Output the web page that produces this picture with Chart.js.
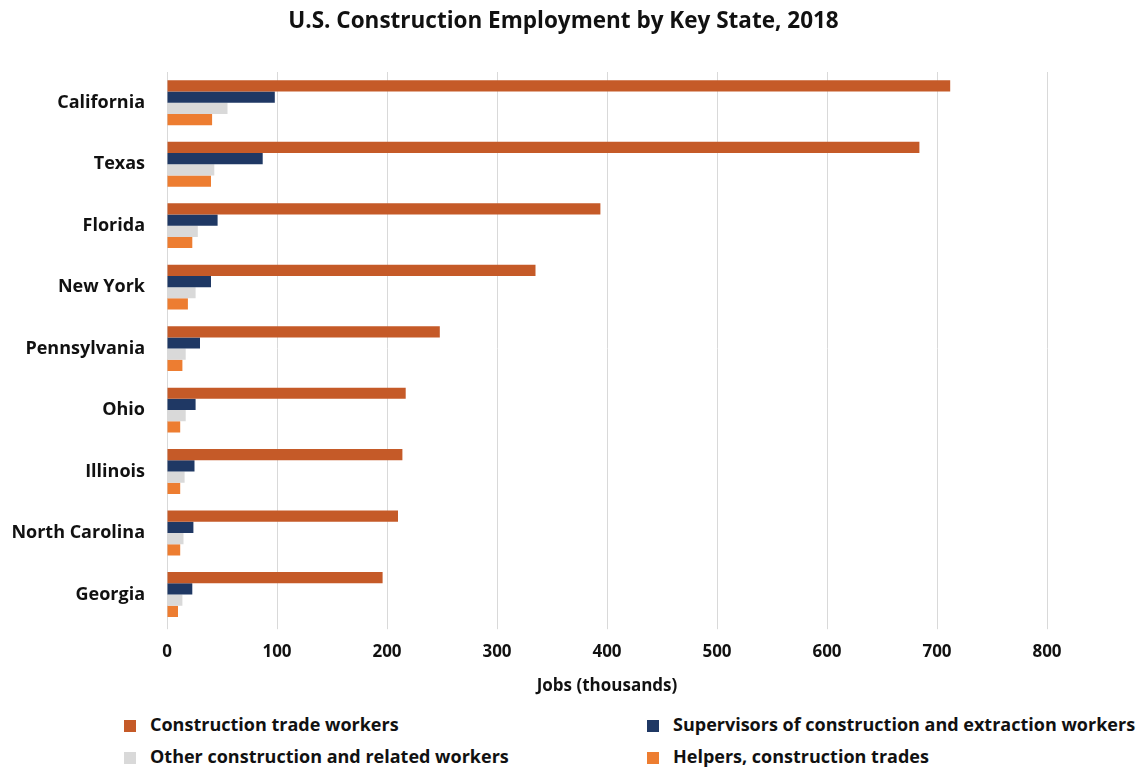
<!DOCTYPE html>
<html>
<head>
<meta charset="utf-8">
<script src="https://cdn.jsdelivr.net/npm/chart.js@4"></script>
<style>
    body { margin: 0; background: #fff; font-family: 'Open Sans', sans-serif; }
    #wrap { position: relative; width: 1141px; height: 768px; }
    #chartTitle { position: absolute; left: 0; top: 6px; width: 1127px; text-align: center; font-weight: bold; font-size: 22.5px; line-height: 28px; color: #111; }
    #chartBox { position: absolute; left: 0; top: 0; width: 1141px; height: 700px; }
    .legend-item { position: absolute; font-weight: bold; font-size: 18px; color: #111; line-height: 20px; white-space: nowrap; }
    .legend-item span.box { display: inline-block; width: 12px; height: 12px; margin-right: 14px; vertical-align: -1px; }
</style>
</head>
<body>
<div id="wrap">
    <div id="chartBox"><canvas id="barChart"></canvas></div>
    <div id="chartTitle">U.S. Construction Employment by Key State, 2018</div>
    <div id="legend"></div>
</div>
<script>
// Data (thousands of jobs)
const states = ['California', 'Texas', 'Florida', 'New York', 'Pennsylvania', 'Ohio', 'Illinois', 'North Carolina', 'Georgia'];
const tradeWorkers = [712, 684, 394, 335, 248, 217, 214, 210, 196];
const supervisors = [98, 87, 46, 40, 30, 26, 25, 24, 23];
const otherWorkers = [55, 43, 28, 26, 17, 17, 16, 15, 14];
const helpers = [41, 40, 23, 19, 14, 12, 12, 12, 10];
const xTicks = [0, 100, 200, 300, 400, 500, 600, 700, 800];

const seriesNames = ['Construction trade workers', 'Supervisors of construction and extraction workers', 'Other construction and related workers', 'Helpers, construction trades'];
const seriesColors = ['#C55A28', '#1F3864', '#D9D9D9', '#ED7D31'];

Chart.defaults.font.family = "'Open Sans', sans-serif";
Chart.defaults.color = '#111';

function renderBarChart() {
    const ctx = document.getElementById('barChart').getContext('2d');
    const values = [tradeWorkers, supervisors, otherWorkers, helpers];
    new Chart(ctx, {
        type: 'bar',
        data: {
            labels: states,
            datasets: values.map((d, i) => ({
                label: seriesNames[i],
                data: d,
                backgroundColor: seriesColors[i],
                categoryPercentage: 0.73,
                barPercentage: 1.0
            }))
        },
        options: {
            indexAxis: 'y',
            responsive: true,
            maintainAspectRatio: false,
            animation: false,
            // title is an html div above, so the canvas keeps its top padding
            layout: { padding: { left: 0, right: 94, top: 72, bottom: 4 } },
            plugins: {
                legend: { display: false },
                tooltip: { enabled: false },
                title: { display: false }
            },
            scales: {
                x: {
                    min: 0,
                    max: 800,
                    afterBuildTicks: scale => { scale.ticks = xTicks.map(v => ({ value: v })); },
                    grid: { color: '#D9D9D9', lineWidth: 1, drawTicks: true, tickLength: 4 },
                    border: { display: false },
                    ticks: { font: { size: 17, weight: 'bold' }, padding: 13, color: '#111' },
                    title: {
                        display: true,
                        text: 'Jobs (thousands)',
                        font: { size: 17, weight: 'bold' },
                        color: '#111',
                        padding: { top: 0, bottom: 0 }
                    }
                },
                y: {
                    afterFit: scale => { scale.width = 167; },
                    grid: { display: false, drawTicks: false },
                    border: { display: true, color: '#D9D9D9', width: 1 },
                    ticks: { font: { size: 18, weight: 'bold' }, padding: 22, color: '#111' }
                }
            }
        }
    });
}

function renderLegend() {
    const pos = [[124, 714], [647, 714], [124, 746], [647, 746]];
    document.getElementById('legend').innerHTML = seriesNames.map((name, i) => `
        <div class="legend-item" style="left:${pos[i][0]}px; top:${pos[i][1]}px;">
            <span class="box" style="background:${seriesColors[i]}"></span>${name}
        </div>
    `).join('');
}

renderBarChart();
renderLegend();
</script>
</body>
</html>
